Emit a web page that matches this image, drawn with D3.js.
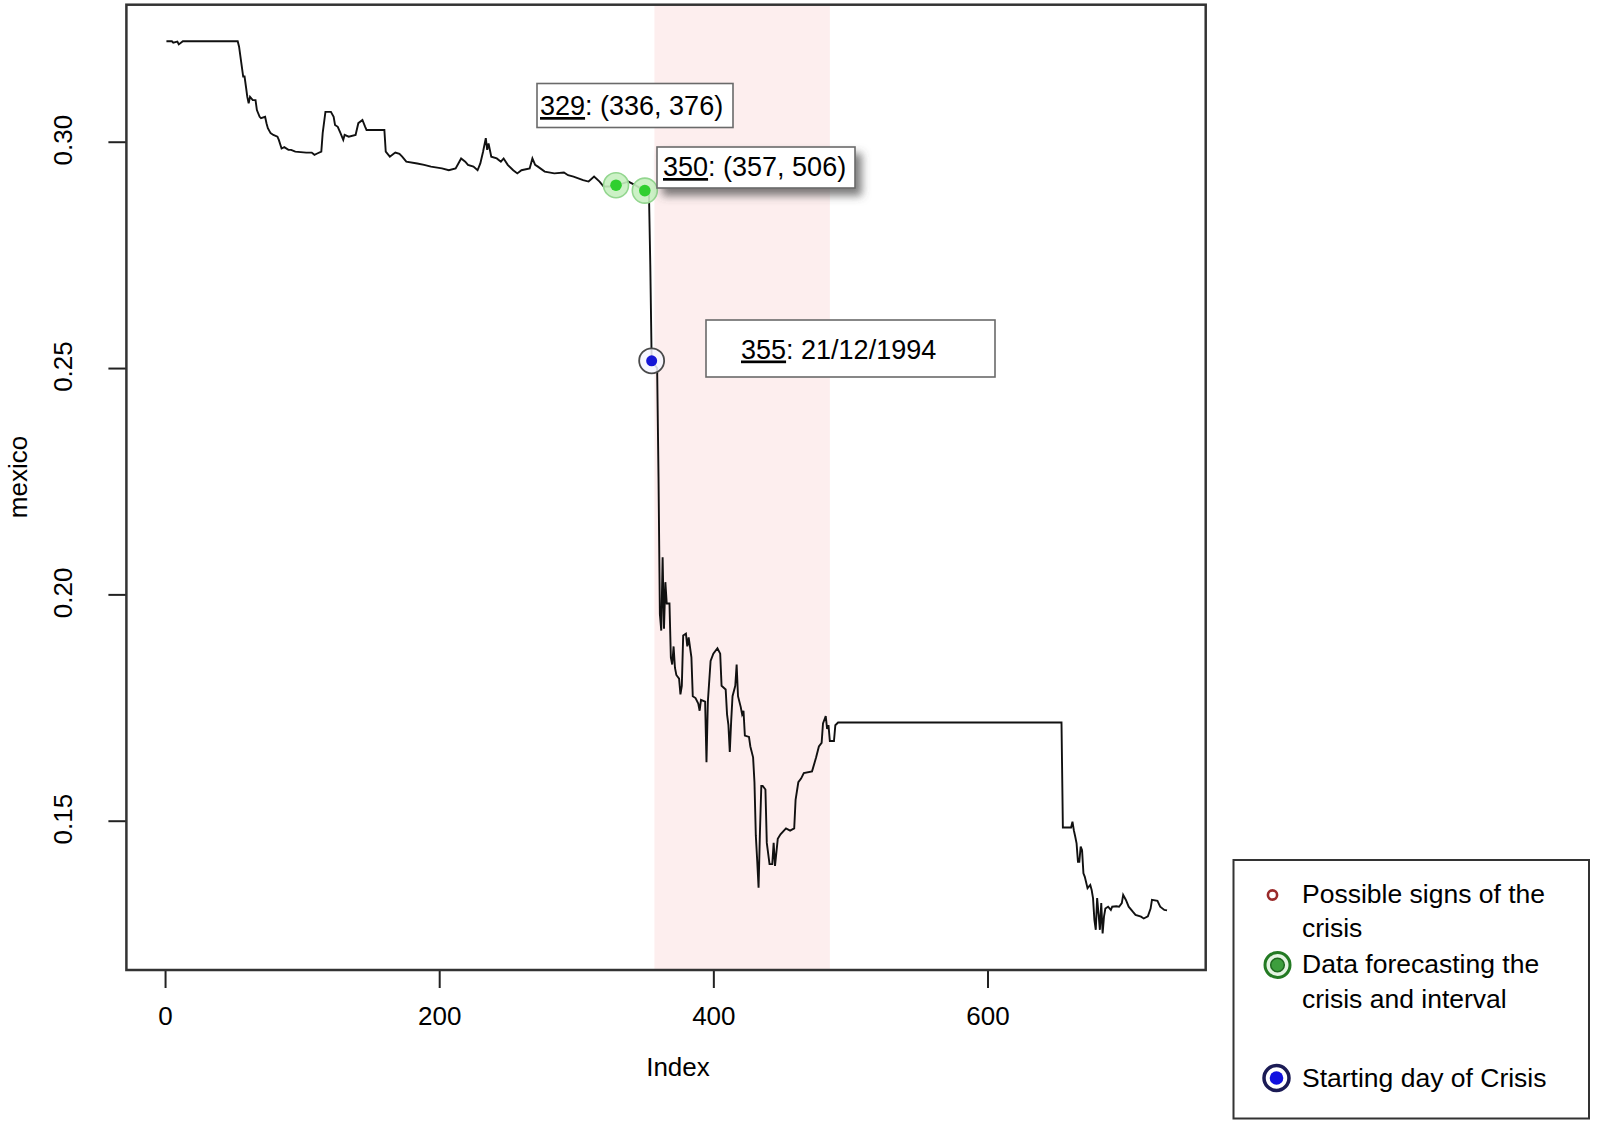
<!DOCTYPE html>
<html>
<head>
<meta charset="utf-8">
<script src="https://cdn.jsdelivr.net/npm/d3@7"></script>
<style>
  html, body { margin: 0; padding: 0; background: #ffffff; }
  svg { display: block; }
  text { font-family: "Liberation Sans", Arial, Helvetica, sans-serif; fill: #000; }
</style>
</head>
<body>
<svg id="chart" width="1597" height="1127"></svg>
<script>
// ---------------- data ----------------
const xTicks = [0, 200, 400, 600];
const yTicks = [0.15, 0.20, 0.25, 0.30];

const index = [
  1, 5, 6, 9, 10, 13, 53, 54, 56, 57, 58, 59, 60, 61, 62, 64, 66, 67, 69, 70,
  73, 74, 75, 77, 79, 82, 83, 85, 87, 90, 92, 95, 103, 107, 109, 111, 114, 115, 117, 121,
  123, 124, 126, 128, 130, 131, 134, 139, 141, 144, 146, 147, 160, 161, 164, 167, 168, 171, 173, 176,
  184, 189, 194, 202, 207, 212, 214, 216, 219, 221, 225, 228, 230, 232, 234, 235, 236, 238, 242, 245,
  247, 250, 254, 257, 260, 266, 268, 270, 272, 277, 284, 291, 294, 298, 305, 309, 313, 317, 320, 325,
  329, 334, 338, 343, 349, 350, 353, 354, 355, 359, 360, 361, 362, 363, 364, 365, 366, 368, 369, 370,
  371, 372, 373, 375, 376, 377, 378, 380, 381, 382, 384, 385, 387, 389, 390, 391, 394, 395, 396, 398,
  400, 403, 405, 406, 409, 410, 411, 412, 413, 414, 416, 417, 418, 420, 421, 422, 423, 426, 427, 429,
  430, 431, 432, 433, 434, 435, 436, 438, 439, 441, 443, 444, 445, 447, 449, 453, 456, 459, 460, 462,
  464, 466, 472, 475, 477, 479, 480, 482, 483, 484, 485, 488, 489, 491, 654, 655, 661, 662, 663, 664,
  665, 666, 667, 668, 669, 670, 671, 673, 675, 676, 677, 678, 679, 680, 681, 682, 683, 684, 685, 686,
  688, 690, 691, 694, 696, 698, 699, 701, 703, 706, 708, 712, 714, 717, 719, 720, 724, 726, 729, 731
];

const mexico = [
  0.3222, 0.3222, 0.3219, 0.3221, 0.3215, 0.3222, 0.3222, 0.3210, 0.3166, 0.3144, 0.3144, 0.3122, 0.3099, 0.3085, 0.3099, 0.3092, 0.3092, 0.3070, 0.3055, 0.3052,
  0.3055, 0.3041, 0.3030, 0.3019, 0.3015, 0.3011, 0.3004, 0.2985, 0.2988, 0.2982, 0.2982, 0.2978, 0.2976, 0.2976, 0.2971, 0.2974, 0.2978, 0.3019, 0.3066, 0.3066,
  0.3055, 0.3037, 0.3033, 0.3019, 0.3004, 0.3015, 0.3011, 0.3015, 0.3041, 0.3048, 0.3033, 0.3026, 0.3026, 0.2978, 0.2967, 0.2974, 0.2976, 0.2973, 0.2967, 0.2956,
  0.2952, 0.2949, 0.2945, 0.2941, 0.2937, 0.2941, 0.2952, 0.2963, 0.2956, 0.2949, 0.2945, 0.2937, 0.2952, 0.2978, 0.3008, 0.2982, 0.2996, 0.2967, 0.2963, 0.2956,
  0.2963, 0.2949, 0.2937, 0.2930, 0.2937, 0.2941, 0.2963, 0.2949, 0.2945, 0.2934, 0.2930, 0.2932, 0.2926, 0.2923, 0.2915, 0.2912, 0.2923, 0.2912, 0.2901, 0.2901,
  0.2904, 0.2908, 0.2912, 0.2904, 0.2893, 0.2892, 0.2892, 0.2728, 0.2516, 0.2500, 0.2260, 0.1956, 0.1920, 0.2082, 0.1924, 0.2027, 0.1980, 0.1980, 0.1861, 0.1845,
  0.1885, 0.1838, 0.1822, 0.1814, 0.1779, 0.1798, 0.1909, 0.1913, 0.1885, 0.1905, 0.1861, 0.1775, 0.1771, 0.1759, 0.1743, 0.1767, 0.1763, 0.1629, 0.1763, 0.1853,
  0.1869, 0.1881, 0.1869, 0.1798, 0.1790, 0.1735, 0.1711, 0.1652, 0.1719, 0.1775, 0.1798, 0.1845, 0.1775, 0.1751, 0.1735, 0.1743, 0.1688, 0.1685, 0.1664, 0.1640,
  0.1585, 0.1467, 0.1412, 0.1352, 0.1475, 0.1577, 0.1577, 0.1569, 0.1451, 0.1404, 0.1404, 0.1451, 0.1400, 0.1460, 0.1470, 0.1483, 0.1478, 0.1483, 0.1546, 0.1585,
  0.1593, 0.1605, 0.1609, 0.1640, 0.1664, 0.1672, 0.1715, 0.1731, 0.1703, 0.1711, 0.1676, 0.1676, 0.1711, 0.1717, 0.1717, 0.1485, 0.1485, 0.1498, 0.1479, 0.1465,
  0.1450, 0.1409, 0.1409, 0.1443, 0.1435, 0.1384, 0.1376, 0.1351, 0.1358, 0.1347, 0.1329, 0.1281, 0.1259, 0.1329, 0.1295, 0.1259, 0.1318, 0.1251, 0.1288, 0.1306,
  0.1310, 0.1303, 0.1310, 0.1311, 0.1310, 0.1318, 0.1336, 0.1325, 0.1310, 0.1299, 0.1292, 0.1288, 0.1284, 0.1289, 0.1306, 0.1325, 0.1323, 0.1310, 0.1303, 0.1302
];

const forecastIdx = [329, 350];
const forecastVal = [0.2904, 0.2892];
const crisisIdx = [355];
const crisisVal = [0.2516];
const intervalRange = [357, 485];

const annotationIds = ["329", "350", "355"];
const annotationRest = [": (336, 376)", ": (357, 506)", ": 21/12/1994"];

const legendLines = [["Possible signs of the", "crisis"], ["Data forecasting the", "crisis and interval"], ["Starting day of Crisis"]];
const xTitle = "Index";
const yTitle = "mexico";

// ---------------- drawing ----------------
const svg = d3.select("#chart");
const L = 126.4, R = 1205.7, T = 4.7, B = 970;

const x = d3.scaleLinear().domain([-28.2, 759.2]).range([L, R]);
const y = d3.scaleLinear().domain([0.11702, 0.33027]).range([B, T]);

const defs = svg.append("defs");
const f = defs.append("filter").attr("id", "shadow").attr("x", "-20%").attr("y", "-30%").attr("width", "150%").attr("height", "180%");
f.append("feDropShadow").attr("dx", 6).attr("dy", 7).attr("stdDeviation", 4)
  .attr("flood-color", "#444").attr("flood-opacity", 0.7);

// crisis interval shading
svg.append("rect")
  .attr("x", x(intervalRange[0])).attr("y", T)
  .attr("width", x(intervalRange[1]) - x(intervalRange[0])).attr("height", B - T)
  .attr("fill", "#fdeeee");

// series line
const pts = index.map((d, i) => ({ i: d, v: mexico[i] }));
svg.append("path")
  .datum(pts)
  .attr("fill", "none")
  .attr("stroke", "#111")
  .attr("stroke-width", 1.9)
  .attr("stroke-linejoin", "miter")
  .attr("d", d3.line().x(d => x(d.i)).y(d => y(d.v)));

// axes
const xAxis = svg.append("g").attr("transform", `translate(0,${B})`)
  .call(d3.axisBottom(x).tickValues(xTicks).tickSize(18).tickPadding(19).tickFormat(d3.format("d")));
xAxis.select(".domain").remove();
xAxis.selectAll("line").attr("stroke", "#222").attr("stroke-width", 2);
xAxis.selectAll("text").style("font-size", "26px").attr("font-family", null);

const yAxis = svg.append("g").attr("transform", `translate(${L},0)`)
  .call(d3.axisLeft(y).tickValues(yTicks).tickSize(18).tickFormat(d3.format(".2f")));
yAxis.select(".domain").remove();
yAxis.selectAll("line").attr("stroke", "#222").attr("stroke-width", 2);
yAxis.selectAll("text")
  .attr("x", null).attr("dy", null)
  .attr("text-anchor", "middle")
  .attr("transform", "translate(-54,-2) rotate(-90)")
  .style("font-size", "26px").attr("font-family", null);

// frame
svg.append("rect").attr("x", L).attr("y", T).attr("width", R - L).attr("height", B - T)
  .attr("fill", "none").attr("stroke", "#333").attr("stroke-width", 2.5);

// axis titles
svg.append("text").attr("x", 678).attr("y", 1076).attr("text-anchor", "middle")
  .style("font-size", "26px").text(xTitle);
svg.append("text").attr("transform", "translate(27,477) rotate(-90)").attr("text-anchor", "middle")
  .style("font-size", "26px").text(yTitle);

// markers: forecasting points
forecastIdx.forEach((d, i) => {
  svg.append("circle").attr("cx", x(d)).attr("cy", y(forecastVal[i])).attr("r", 12.5)
    .attr("fill", "#c6efc0").attr("fill-opacity", 0.9).attr("stroke", "#93d68f").attr("stroke-width", 1.6);
  svg.append("circle").attr("cx", x(d)).attr("cy", y(forecastVal[i])).attr("r", 5.8)
    .attr("fill", "#2fcf2f");
});
// crisis start
crisisIdx.forEach((d, i) => {
  svg.append("circle").attr("cx", x(d)).attr("cy", y(crisisVal[i])).attr("r", 12.5)
    .attr("fill", "#f6f6ff").attr("fill-opacity", 0.85).attr("stroke", "#4a4a4a").attr("stroke-width", 1.8);
  svg.append("circle").attr("cx", x(d)).attr("cy", y(crisisVal[i])).attr("r", 5.5)
    .attr("fill", "#1616d6");
});

// annotation boxes
const boxes = [
  { x: 537, y: 83.5, w: 196, h: 44, tx: 540, ty: 115, shadow: false },
  { x: 657, y: 147, w: 198, h: 41, tx: 663, ty: 176, shadow: true },
  { x: 706, y: 320, w: 289, h: 57, tx: 741, ty: 358.5, shadow: false }
];
boxes.forEach((b, i) => {
  svg.append("rect").attr("x", b.x).attr("y", b.y).attr("width", b.w).attr("height", b.h)
    .attr("fill", "#fff").attr("stroke", "#6a6a6a").attr("stroke-width", 1.6)
    .attr("filter", b.shadow ? "url(#shadow)" : null);
  const t = svg.append("text").attr("x", b.tx).attr("y", b.ty).style("font-size", "27px");
  t.append("tspan").attr("text-decoration", "underline").style("text-decoration", "underline").text(annotationIds[i]);
  t.append("tspan").text(annotationRest[i]);
});

// legend
svg.append("rect").attr("x", 1233.5).attr("y", 860).attr("width", 355.5).attr("height", 258.5)
  .attr("fill", "#fff").attr("stroke", "#333").attr("stroke-width", 2);

const lg = svg.append("g");
// possible signs marker
lg.append("circle").attr("cx", 1272.5).attr("cy", 895).attr("r", 4.6)
  .attr("fill", "#fff").attr("stroke", "#9a2a2a").attr("stroke-width", 2.6);
// forecasting marker
lg.append("circle").attr("cx", 1277.5).attr("cy", 965).attr("r", 12.5)
  .attr("fill", "#e4f4e2").attr("stroke", "#237a23").attr("stroke-width", 3);
lg.append("circle").attr("cx", 1277.5).attr("cy", 965).attr("r", 6.8)
  .attr("fill", "#3d9e3d").attr("stroke", "#1f6a1f").attr("stroke-width", 1.5);
// crisis marker
lg.append("circle").attr("cx", 1276.5).attr("cy", 1078).attr("r", 12.5)
  .attr("fill", "#fff").attr("stroke", "#1b1b55").attr("stroke-width", 3.5);
lg.append("circle").attr("cx", 1276.5).attr("cy", 1078).attr("r", 6.8)
  .attr("fill", "#1010e0");

const legendY = [[903, 937], [972.5, 1008], [1087]];
legendLines.forEach((lines, i) => {
  lines.forEach((s, j) => {
    lg.append("text").attr("x", 1302).attr("y", legendY[i][j]).style("font-size", "26.5px").text(s);
  });
});
</script>
</body>
</html>
